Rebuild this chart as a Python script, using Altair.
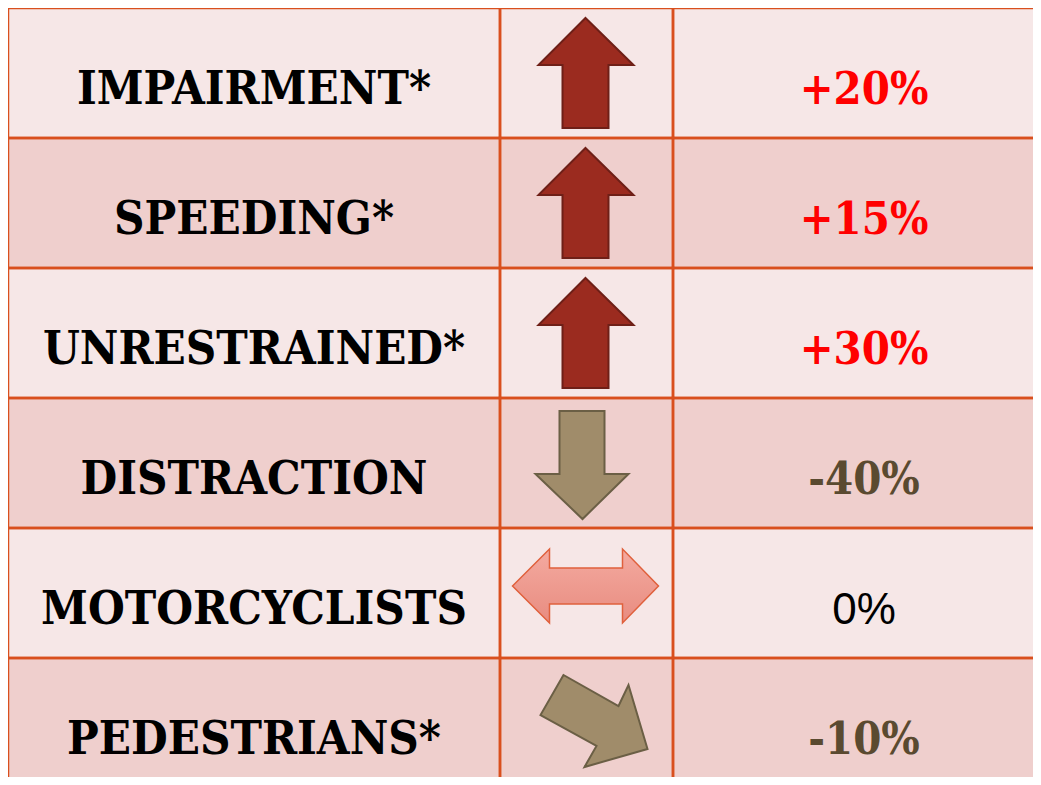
import altair as alt
import pandas as pd

# ---- data ----
categories = ["IMPAIRMENT*", "SPEEDING*", "UNRESTRAINED*", "DISTRACTION", "MOTORCYCLISTS", "PEDESTRIANS*"]
changes = [20, 15, 30, -40, 0, -10]
directions = ["up", "up", "up", "down", "both", "down-right"]

# ---- layout / style ----
W, H = 1025, 769
ROW_H = 130
col_edges = [0, 492, 665, 1047]
BORDER = "#d94f1e"
LIGHT = "#f6e7e7"
DARK = "#efcfcd"
RED = "#ff0000"
OLIVE = "#5a4a30"
SERIF = "DejaVu Serif Condensed, DejaVu Serif"

ARROW_PATHS = {
    "up": "M-1,-55 L47,-8 L22,-8 L22,55 L-24,55 L-24,-8 L-48,-8 Z",
    "down": "M-27,-52 L18,-52 L18,11 L42,11 L-4,56 L-51,11 L-27,11 Z",
    "both": "M-74,-7 L-37,-44 L-37,-25 L36,-25 L36,-44 L72,-7 L36,30 L36,11 L-37,11 L-37,30 Z",
    "down-right": "M-23,-48 L-46,-8 L10,23 L-2,44 L61,26 L42,-38 L32,-17 Z",
}
ARROW_FILL = {"up": "#9b2b1f", "down": "#a08c6a", "down-right": "#a08c6a"}
ARROW_STROKE = {"up": "#6e1f17", "down": "#6b5f45", "down-right": "#6b5f45"}

rows = []
for i, (cat, ch, d) in enumerate(zip(categories, changes, directions)):
    rows.append({
        "idx": i,
        "label": cat,
        "change": ch,
        "pct": "0%" if ch == 0 else f"{ch:+d}%",
        "dir": d,
        "trend": "rise" if ch > 0 else ("fall" if ch < 0 else "flat"),
        "r0": i,
        "r1": i + 1,
        "rm": i + 0.5,
        "lab_x": (col_edges[0] + col_edges[1]) / 2,
        "arr_x": (col_edges[1] + col_edges[2]) / 2,
        "pct_x": (col_edges[2] + col_edges[3]) / 2,
    })
df = pd.DataFrame(rows)

cells = []
for i in range(len(categories)):
    for c in range(3):
        cells.append({"r0": i, "r1": i + 1, "x0": col_edges[c], "x1": col_edges[c + 1],
                      "shade": "light" if i % 2 == 0 else "dark"})
cells_df = pd.DataFrame(cells)

xs = alt.Scale(domain=[0, W], range=[0, W], nice=False, zero=False)
ys = alt.Scale(domain=[0, H / ROW_H], range=[0, H], nice=False, zero=False)

grid = alt.Chart(cells_df).mark_rect(clip=True).encode(
    x=alt.X("x0:Q", scale=xs, axis=None),
    x2="x1:Q",
    y=alt.Y("r0:Q", scale=ys, axis=None),
    y2="r1:Q",
    fill=alt.Fill("shade:N", scale=alt.Scale(domain=["light", "dark"], range=[LIGHT, DARK]), legend=None),
)

borders = alt.Chart(cells_df).mark_rect(clip=True, fillOpacity=0, stroke=BORDER, strokeWidth=2.5).encode(
    x=alt.X("x0:Q", scale=xs, axis=None),
    x2="x1:Q",
    y=alt.Y("r0:Q", scale=ys, axis=None),
    y2="r1:Q",
)

base = alt.Chart(df)

labels = base.mark_text(font=SERIF, fontWeight="bold", fontSize=47, baseline="alphabetic",
                        dy=31, color="black").encode(
    x=alt.X("lab_x:Q", scale=xs, axis=None),
    y=alt.Y("rm:Q", scale=ys, axis=None),
    text="label:N",
)

pct_main = base.transform_filter("datum.change != 0").mark_text(
    font=SERIF, fontWeight="bold", fontSize=45, baseline="alphabetic", dy=31).encode(
    x=alt.X("pct_x:Q", scale=xs, axis=None),
    y=alt.Y("rm:Q", scale=ys, axis=None),
    text="pct:N",
    color=alt.Color("trend:N", scale=alt.Scale(domain=["rise", "fall"], range=[RED, OLIVE]), legend=None),
)

pct_zero = base.transform_filter("datum.change == 0").mark_text(
    font="Liberation Sans", fontSize=44, baseline="alphabetic", dy=31, color="black").encode(
    x=alt.X("pct_x:Q", scale=xs, axis=None),
    y=alt.Y("rm:Q", scale=ys, axis=None),
    text="pct:N",
)

solid_dirs = ["up", "down", "down-right"]
arrows = base.transform_filter("datum.dir != 'both'").mark_point(
    filled=True, size=4, strokeWidth=2, opacity=1, fillOpacity=1, clip=True).encode(
    x=alt.X("arr_x:Q", scale=xs, axis=None),
    y=alt.Y("rm:Q", scale=ys, axis=None),
    shape=alt.Shape("dir:N", scale=alt.Scale(domain=solid_dirs, range=[ARROW_PATHS[d] for d in solid_dirs]), legend=None),
    fill=alt.Fill("dir:N", scale=alt.Scale(domain=solid_dirs, range=[ARROW_FILL[d] for d in solid_dirs]), legend=None),
    stroke=alt.Stroke("dir:N", scale=alt.Scale(domain=solid_dirs, range=[ARROW_STROKE[d] for d in solid_dirs]), legend=None),
)

both = base.transform_filter("datum.dir == 'both'").mark_point(
    filled=True, size=4, strokeWidth=1.5, opacity=1, fillOpacity=1, clip=True,
    shape=ARROW_PATHS["both"],
    fill=alt.LinearGradient(gradient="linear", x1=0, x2=0, y1=0, y2=1,
                            stops=[alt.GradientStop(color="#f4aaa0", offset=0),
                                   alt.GradientStop(color="#e88c80", offset=1)]),
    stroke="#e0603c",
).encode(
    x=alt.X("arr_x:Q", scale=xs, axis=None),
    y=alt.Y("rm:Q", scale=ys, axis=None),
)

chart = alt.layer(grid, borders, labels, pct_main, pct_zero, arrows, both).resolve_scale(
    fill="independent", stroke="independent", shape="independent", color="independent"
).properties(
    width=W, height=H, padding=0, autosize=alt.AutoSizeParams(type="none"),
    background="white",
).configure_view(stroke=None)

chart.save("out.html", embed_options={"renderer": "svg", "actions": False})
